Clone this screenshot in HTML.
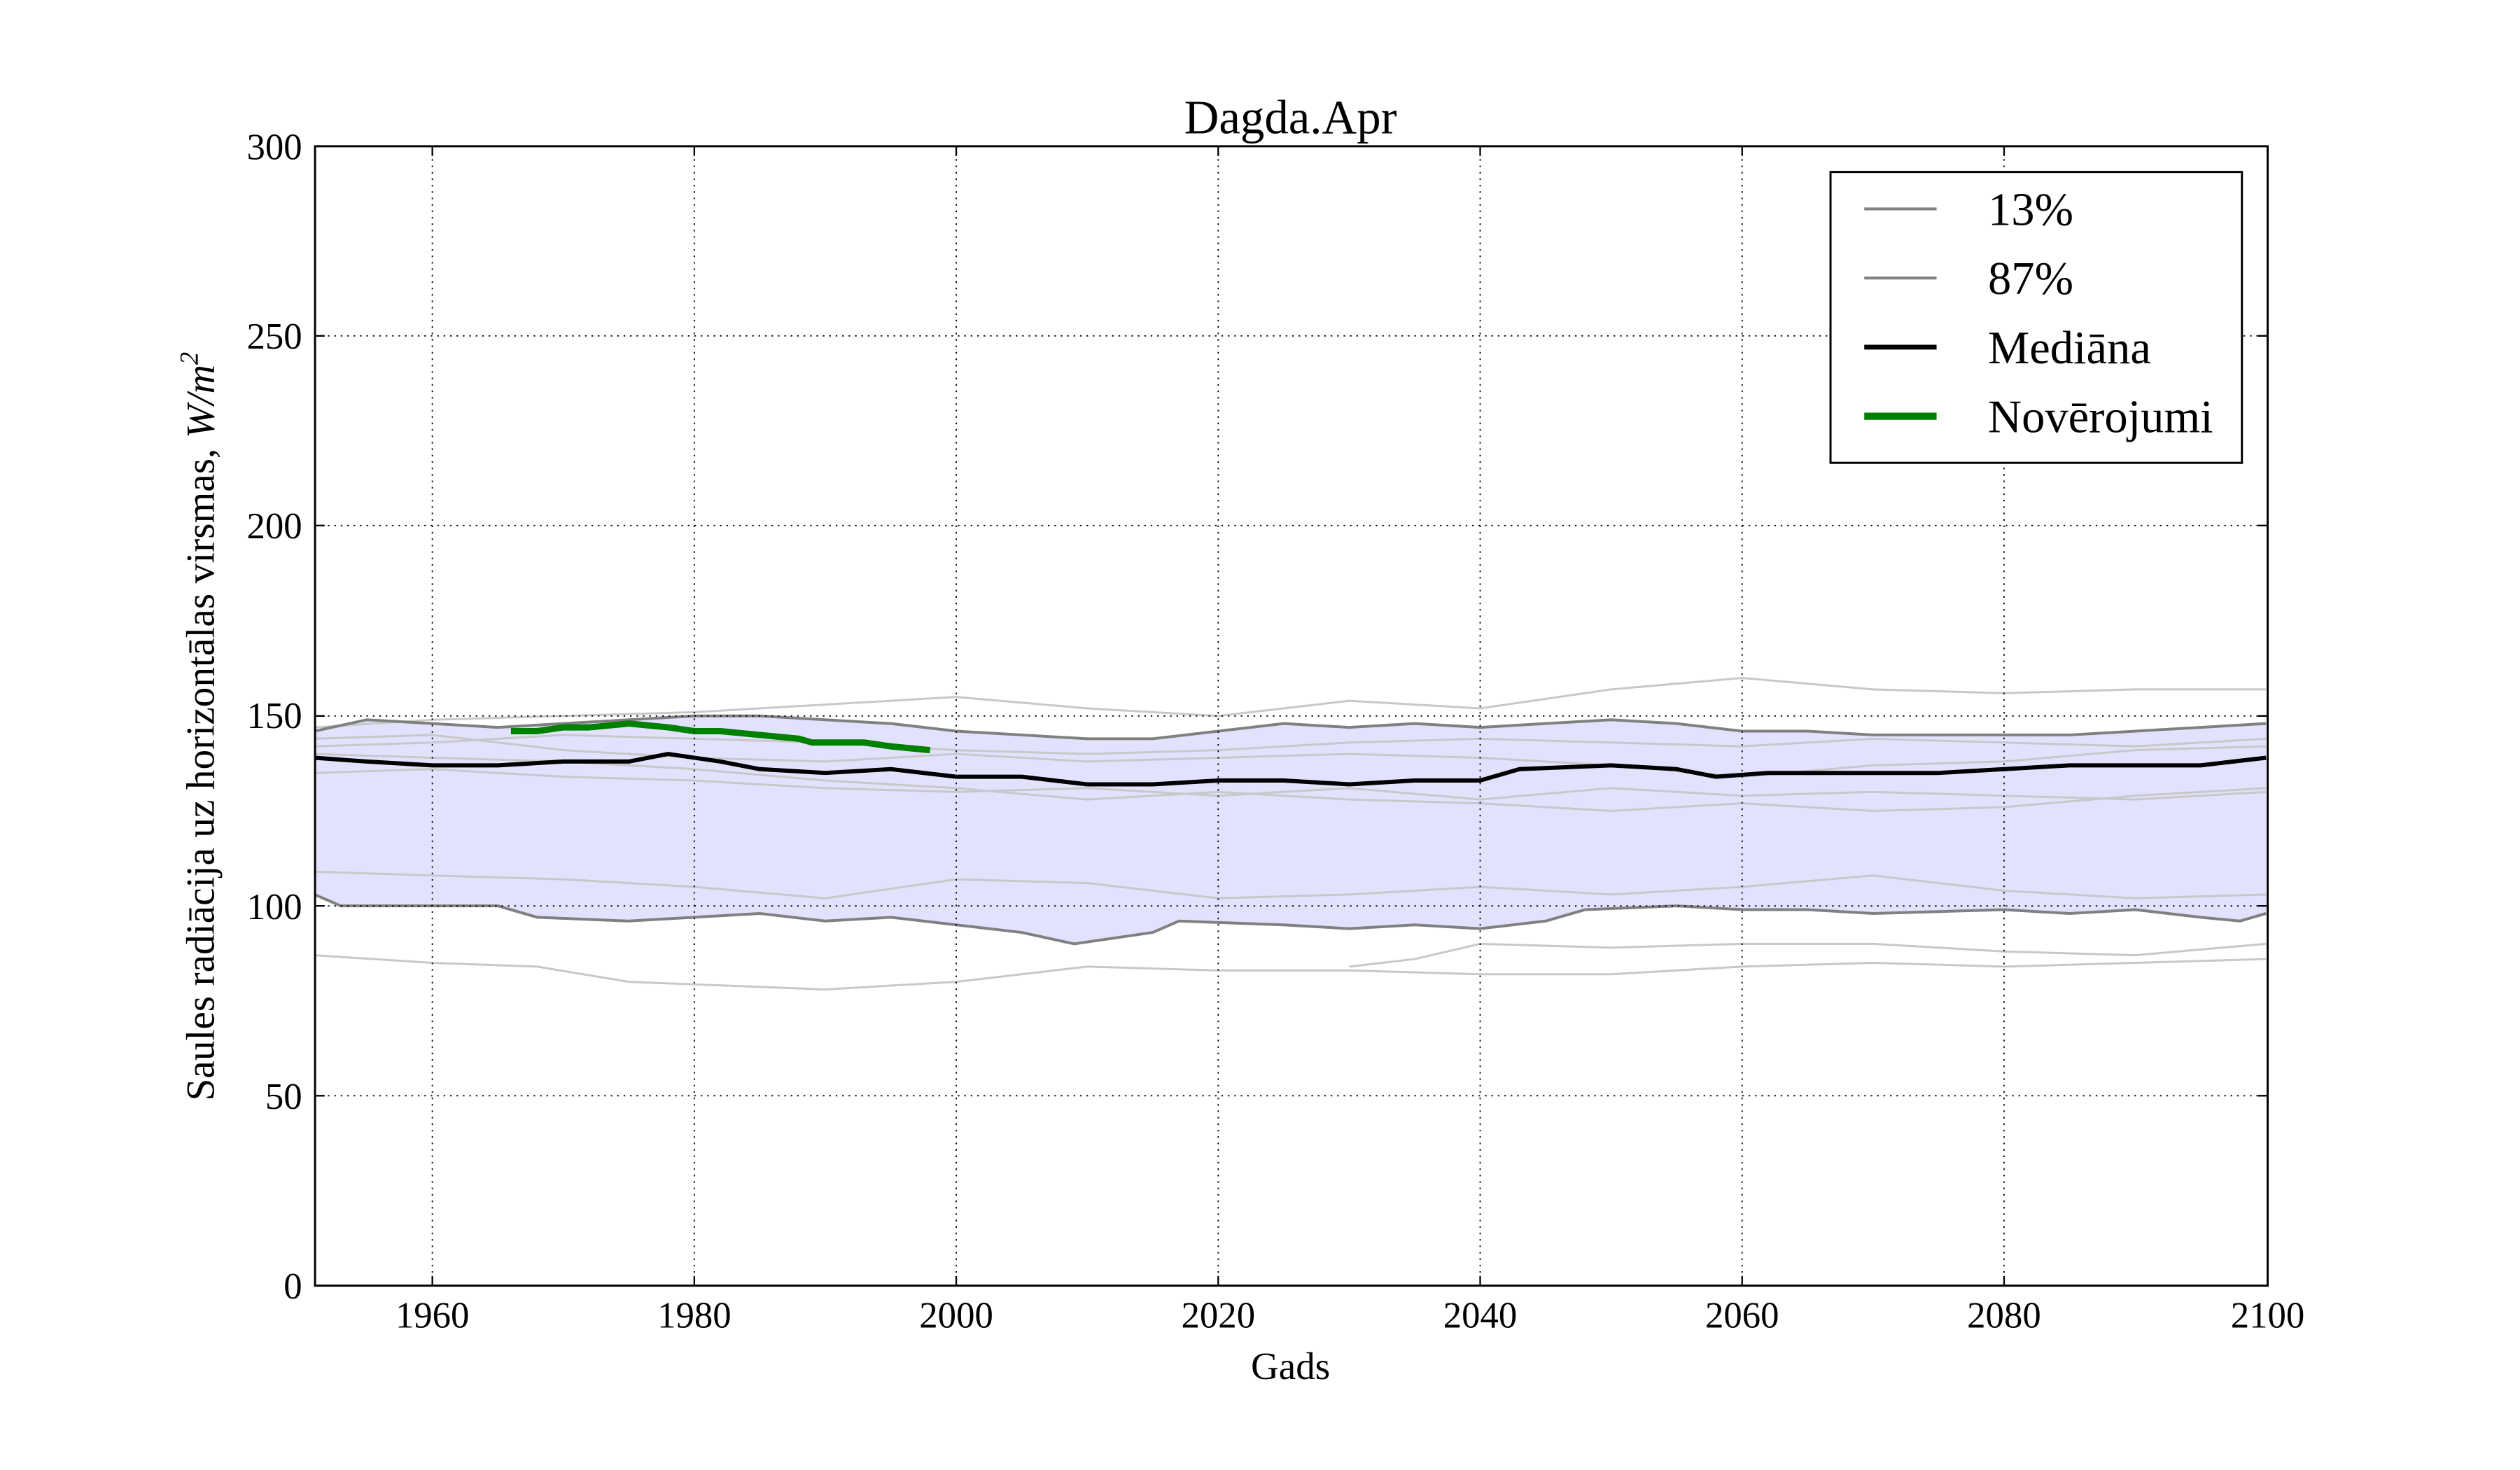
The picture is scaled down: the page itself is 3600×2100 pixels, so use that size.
<!DOCTYPE html>
<html><head><meta charset="utf-8"><style>html,body{margin:0;padding:0;background:#fff}svg{display:block}</style></head>
<body>
<svg width="3600" height="2100" viewBox="0 0 1568 914.7" xmlns="http://www.w3.org/2000/svg" font-family="Liberation Serif, serif">
<rect width="1568" height="915" fill="#fff"/>
<g transform="matrix(8.15,0,0,-2.3633,-15705,800)" fill="none" stroke-linejoin="round">
<polygon fill="#e2e2ff" stroke="none" points="1951,146 1955,149 1960,148 1965,147 1970,148 1975,149 1980,150 1985,150 1990,149 1995,148 2000,146 2005,145 2010,144 2015,144 2020,146 2025,148 2030,147 2035,148 2040,147 2045,148 2050,149 2055,148 2060,146 2065,146 2070,145 2075,145 2080,145 2085,145 2090,146 2095,147 2100,148 2100,98 2098,96 2095,97 2090,99 2085,98 2080,99 2070,98 2065,99 2060,99 2055,100 2048,99 2045,96 2040,94 2035,95 2030,94 2025,95 2017,96 2015,93 2009,90 2005,93 2000,95 1995,97 1990,96 1985,98 1980,97 1975,96 1968,97 1965,100 1960,100 1953,100 1951,103"/>
<g stroke="#c8c8c8" stroke-width="3">
<polyline vector-effect="non-scaling-stroke" points="1951,147 1960,149 1970,150 1980,151 1990,153 2000,155 2010,152 2020,150 2030,154 2040,152 2050,157 2060,160 2070,157 2080,156 2090,157 2100,157"/>
<polyline vector-effect="non-scaling-stroke" points="1951,142 1960,143 1970,145 1980,144 1990,143 2000,141 2010,140 2020,141 2030,143 2040,144 2050,143 2060,142 2070,144 2080,143 2090,142 2100,144"/>
<polyline vector-effect="non-scaling-stroke" points="1951,135 1960,136 1970,134 1980,133 1990,131 2000,130 2010,131 2020,129 2030,131 2040,128 2050,131 2060,129 2070,130 2080,129 2090,128 2100,130"/>
<polyline vector-effect="non-scaling-stroke" points="1951,140 1960,139 1970,138 1980,136 1990,133 2000,131 2010,128 2020,130 2030,128 2040,127 2050,125 2060,127 2070,125 2080,126 2090,129 2100,131"/>
<polyline vector-effect="non-scaling-stroke" points="1951,144 1960,145 1970,141 1980,139 1990,138 2000,140 2010,138 2020,139 2030,140 2040,139 2050,137 2060,134 2070,137 2080,138 2090,141 2100,142"/>
<polyline vector-effect="non-scaling-stroke" points="1951,109 1960,108 1970,107 1980,105 1990,102 2000,107 2010,106 2020,102 2030,103 2040,105 2050,103 2060,105 2070,108 2080,104 2090,102 2100,103"/>
<polyline vector-effect="non-scaling-stroke" points="1951,87 1960,85 1968,84 1975,80 1990,78 2000,80 2010,84 2020,83 2030,83 2040,82 2050,82 2060,84 2070,85 2080,84 2090,85 2100,86"/>
<polyline vector-effect="non-scaling-stroke" points="2030,84 2035,86 2040,90 2050,89 2060,90 2070,90 2080,88 2090,87 2100,90"/>
</g>
<polyline vector-effect="non-scaling-stroke" stroke="#808080" stroke-width="4" points="1951,146 1955,149 1960,148 1965,147 1970,148 1975,149 1980,150 1985,150 1990,149 1995,148 2000,146 2005,145 2010,144 2015,144 2020,146 2025,148 2030,147 2035,148 2040,147 2045,148 2050,149 2055,148 2060,146 2065,146 2070,145 2075,145 2080,145 2085,145 2090,146 2095,147 2100,148"/>
<polyline vector-effect="non-scaling-stroke" stroke="#808080" stroke-width="4" points="1951,103 1953,100 1960,100 1965,100 1968,97 1975,96 1980,97 1985,98 1990,96 1995,97 2000,95 2005,93 2009,90 2015,93 2017,96 2025,95 2030,94 2035,95 2040,94 2045,96 2048,99 2055,100 2060,99 2065,99 2070,98 2080,99 2085,98 2090,99 2095,97 2098,96 2100,98"/>
<polyline vector-effect="non-scaling-stroke" stroke="#000" stroke-width="6" points="1951,139 1955,138 1960,137 1965,137 1970,138 1975,138 1978,140 1982,138 1985,136 1990,135 1995,136 2000,134 2005,134 2010,132 2015,132 2020,133 2025,133 2030,132 2035,133 2040,133 2043,136 2050,137 2055,136 2058,134 2062,135 2070,135 2075,135 2080,136 2085,137 2090,137 2095,137 2100,139"/>
<polyline vector-effect="non-scaling-stroke" stroke="#008000" stroke-width="9" points="1966,146 1968,146 1970,147 1972,147 1975,148 1978,147 1980,146 1982,146 1985,145 1988,144 1989,143 1991,143 1993,143 1995,142 1998,141"/>
</g>
<g stroke="#000" stroke-width="0.8" stroke-dasharray="1,3">
<line x1="269" y1="91" x2="269" y2="800"/><line x1="432" y1="91" x2="432" y2="800"/><line x1="595" y1="91" x2="595" y2="800"/><line x1="758" y1="91" x2="758" y2="800"/><line x1="921" y1="91" x2="921" y2="800"/><line x1="1084" y1="91" x2="1084" y2="800"/><line x1="1247" y1="91" x2="1247" y2="800"/>
<line x1="196" y1="209" x2="1411" y2="209"/><line x1="196" y1="327" x2="1411" y2="327"/><line x1="196" y1="445.5" x2="1411" y2="445.5"/><line x1="196" y1="563.7" x2="1411" y2="563.7"/><line x1="196" y1="681.8" x2="1411" y2="681.8"/>
</g>
<g stroke="#000" stroke-width="1">
<path d="M269,800v-6M432,800v-6M595,800v-6M758,800v-6M921,800v-6M1084,800v-6M1247,800v-6M269,91v6M432,91v6M595,91v6M758,91v6M921,91v6M1084,91v6M1247,91v6"/>
<path d="M196,209h6M196,327h6M196,445.5h6M196,563.7h6M196,681.8h6M1411,209h-6M1411,327h-6M1411,445.5h-6M1411,563.7h-6M1411,681.8h-6"/>
</g>
<rect x="196" y="91" width="1215" height="709" fill="none" stroke="#000" stroke-width="1.3"/>
<g font-size="23" text-anchor="middle">
<text x="269" y="826">1960</text><text x="432" y="826">1980</text><text x="595" y="826">2000</text><text x="758" y="826">2020</text><text x="921" y="826">2040</text><text x="1084" y="826">2060</text><text x="1247" y="826">2080</text><text x="1411" y="826">2100</text>
</g>
<g font-size="23" text-anchor="end">
<text x="188" y="808">0</text><text x="188" y="690">50</text><text x="188" y="572">100</text><text x="188" y="453">150</text><text x="188" y="335">200</text><text x="188" y="217">250</text><text x="188" y="99">300</text>
</g>
<text x="803" y="83" font-size="30" text-anchor="middle">Dagda.Apr</text>
<text x="803" y="858" font-size="24" text-anchor="middle">Gads</text>
<text transform="translate(133,452) rotate(-90)" font-size="25" text-anchor="middle">Saules radiācija uz horizontālas virsmas, <tspan font-style="italic">W/m</tspan><tspan font-size="16" dy="-10" font-style="italic">2</tspan></text>
<rect x="1139" y="107" width="256" height="181" fill="#fff" stroke="#000" stroke-width="1.3"/>
<line x1="1160" y1="130" x2="1205" y2="130" stroke="#808080" stroke-width="1.8"/>
<line x1="1160" y1="173" x2="1205" y2="173" stroke="#808080" stroke-width="1.8"/>
<line x1="1160" y1="216" x2="1205" y2="216" stroke="#000" stroke-width="3"/>
<line x1="1160" y1="259" x2="1205" y2="259" stroke="#008000" stroke-width="4.5"/>
<g font-size="29"><text x="1237" y="140">13%</text><text x="1237" y="183">87%</text><text x="1237" y="226">Mediāna</text><text x="1237" y="269">Novērojumi</text></g>
</svg>
</body></html>
